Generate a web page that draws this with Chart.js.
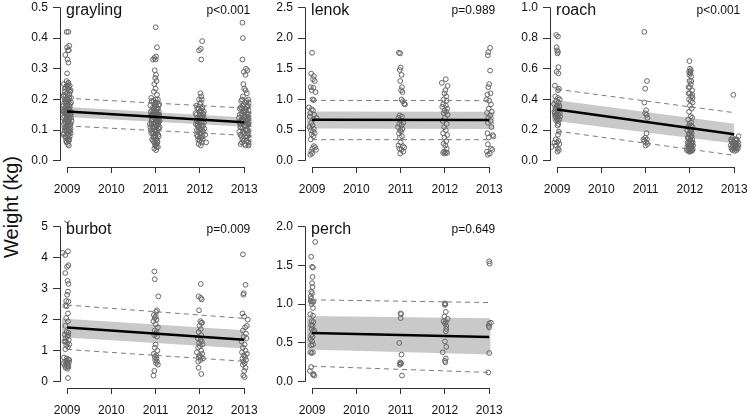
<!DOCTYPE html>
<html>
<head>
<meta charset="utf-8">
<script src="https://cdn.jsdelivr.net/npm/chart.js@4.4.1/dist/chart.umd.min.js"></script>
<style>
  body { margin: 0; width: 750px; height: 414px; position: relative; overflow: hidden; background: #fff;
         font-family: "Liberation Sans", Arial, sans-serif; }
  canvas { position: absolute; }
  #ylab { position: absolute; left: 11px; top: 207px; transform: translate(-50%, -50%) rotate(-90deg);
          font-size: 20px; white-space: nowrap; color: #111; }
</style>
</head>
<body>
<div id="ylab">Weight (kg)</div>
<canvas id="p0"></canvas>
<canvas id="p1"></canvas>
<canvas id="p2"></canvas>
<canvas id="p3"></canvas>
<canvas id="p4"></canvas>
<script>
// ---------- data ----------
const yearTicks = [2009, 2010, 2011, 2012, 2013];
const fitX = [2009, 2013];

// grayling
const graylingTicks = ['0.0', '0.1', '0.2', '0.3', '0.4', '0.5'];
const graylingPts = [
  [2008.99,0.42],[2009.03,0.42],[2009.05,0.375],[2009.0,0.37],[2009.02,0.36],[2009.04,0.36],[2008.96,0.345],[2009.01,0.33],[2009.03,0.32],[2009.0,0.285],[2008.99,0.26],[2009.03,0.255],
  [2008.93,0.25],[2009.06,0.245],[2008.97,0.24],[2009.02,0.235],[2009.08,0.23],[2008.95,0.225],[2009.0,0.22],[2009.05,0.215],[2008.92,0.21],[2009.09,0.205],[2008.98,0.2],[2009.03,0.195],[2008.94,0.19],[2009.07,0.185],[2009.0,0.18],[2008.96,0.175],[2009.04,0.17],[2008.91,0.165],[2009.09,0.16],[2008.99,0.155],[2009.02,0.15],[2008.94,0.145],[2009.06,0.14],[2008.97,0.135],[2009.1,0.13],[2009.01,0.125],[2008.93,0.12],[2009.05,0.115],[2008.98,0.11],[2009.08,0.105],[2008.95,0.1],[2009.03,0.095],[2009.0,0.09],[2008.92,0.085],[2009.06,0.08],[2008.97,0.075],[2009.02,0.07],[2009.04,0.065],[2008.99,0.06],[2009.02,0.055],[2009.04,0.05],
  [2009.0,0.2],[2008.96,0.16],[2009.05,0.18],[2008.99,0.14],[2009.07,0.12],[2008.94,0.17],[2009.03,0.13],[2008.98,0.19],[2009.06,0.1],[2009.01,0.17],[2008.95,0.13],[2009.08,0.15],[2009.02,0.11],[2008.97,0.21],[2009.04,0.23],
  [2008.93,0.215],[2009.05,0.205],[2008.97,0.195],[2009.09,0.19],[2009.01,0.185],[2008.92,0.18],[2009.06,0.175],[2008.98,0.165],[2009.03,0.16],[2008.95,0.155],[2009.07,0.15],[2009.0,0.145],[2008.91,0.14],[2009.04,0.135],[2008.96,0.125],[2009.08,0.12],[2009.02,0.115],[2008.94,0.11],[2009.06,0.095],[2008.99,0.1],[2008.93,0.09],[2009.03,0.085],[2009.08,0.09],[2008.96,0.08],[2009.01,0.075],[2009.05,0.07],[2008.98,0.065],[2009.04,0.24],[2008.99,0.245],[2009.02,0.25],[2008.95,0.235],[2009.07,0.225],[2009.0,0.13],[2008.97,0.105],[2009.05,0.16],[2009.09,0.14],[2008.92,0.16],[2009.02,0.2],[2008.95,0.2],[2009.06,0.11],
  [2011.0,0.435],[2011.03,0.37],[2011.01,0.34],[2010.97,0.335],[2010.94,0.33],[2011.0,0.33],[2010.98,0.295],[2011.01,0.28],[2010.99,0.27],[2011.02,0.26],[2010.97,0.25],[2011.0,0.235],[2010.96,0.225],[2011.03,0.215],
  [2010.9,0.205],[2011.05,0.2],[2010.95,0.195],[2011.0,0.19],[2011.08,0.185],[2010.88,0.18],[2010.98,0.175],[2011.04,0.17],[2010.92,0.165],[2011.07,0.16],[2010.96,0.155],[2011.01,0.15],[2010.89,0.145],[2011.05,0.14],[2010.94,0.135],[2011.09,0.13],[2010.99,0.125],[2010.87,0.12],[2011.03,0.115],[2010.93,0.11],[2011.07,0.105],[2010.97,0.1],[2011.02,0.095],[2010.9,0.09],[2011.06,0.085],[2010.95,0.08],[2011.0,0.075],[2010.92,0.07],[2011.04,0.065],[2010.97,0.06],[2011.02,0.055],[2010.99,0.05],[2011.05,0.045],[2011.01,0.035],
  [2011.0,0.18],[2010.93,0.15],[2011.06,0.12],[2010.98,0.14],[2011.03,0.1],[2010.91,0.13],[2011.08,0.15],[2010.96,0.11],[2011.01,0.16],[2010.94,0.09],[2011.05,0.17],[2010.99,0.08],[2011.0,0.12],[2010.89,0.1],[2011.04,0.13],
  [2010.91,0.195],[2011.03,0.19],[2010.97,0.185],[2011.07,0.18],[2010.94,0.175],[2011.01,0.17],[2010.89,0.16],[2011.04,0.155],[2010.96,0.15],[2011.08,0.145],[2010.99,0.14],[2010.92,0.135],[2011.05,0.125],[2010.95,0.12],[2011.02,0.115],[2010.88,0.11],[2011.06,0.105],[2010.98,0.1],[2010.93,0.095],[2011.03,0.09],[2011.07,0.08],[2010.96,0.075],[2011.01,0.07],[2010.94,0.065],[2011.04,0.06],[2010.99,0.055],[2011.02,0.045],[2010.97,0.04],[2011.0,0.2],[2010.95,0.16],[2011.06,0.13],[2010.91,0.12],[2011.02,0.13],[2010.98,0.16],[2011.09,0.11],[2010.9,0.15],[2011.0,0.095],[2011.05,0.15],
  [2011.98,0.36],[2012.02,0.365],[2012.05,0.39],[2012.03,0.33],[2012.01,0.22],[2012.03,0.21],[2011.98,0.2],[2012.02,0.19],
  [2011.92,0.18],[2012.06,0.175],[2011.97,0.17],[2012.02,0.165],[2012.09,0.16],[2011.9,0.155],[2012.0,0.15],[2012.05,0.145],[2011.94,0.14],[2012.1,0.135],[2011.99,0.13],[2012.04,0.125],[2011.91,0.12],[2012.07,0.115],[2011.96,0.11],[2012.01,0.105],[2011.93,0.1],[2012.08,0.095],[2011.98,0.09],[2012.12,0.085],[2011.95,0.08],[2012.03,0.075],[2012.06,0.07],[2011.99,0.065],[2011.97,0.055],[2012.02,0.05],[2012.14,0.06],
  [2012.0,0.14],[2011.95,0.12],[2012.05,0.1],[2012.02,0.16],[2011.93,0.13],[2012.08,0.15],
  [2011.94,0.17],[2012.04,0.17],[2011.99,0.16],[2012.07,0.155],[2011.92,0.15],[2012.03,0.14],[2011.97,0.135],[2012.09,0.125],[2012.0,0.12],[2011.94,0.115],[2012.05,0.11],[2011.99,0.1],[2012.1,0.105],[2011.96,0.095],[2012.03,0.09],[2011.93,0.085],[2012.06,0.08],[2012.0,0.075],[2011.96,0.07],[2012.04,0.06],[2012.0,0.185],[2012.04,0.2],
  [2012.96,0.45],[2012.97,0.4],[2012.96,0.33],[2013.04,0.3],[2013.07,0.295],[2012.99,0.29],[2013.03,0.28],[2012.98,0.25],[2013.0,0.235],[2013.03,0.23],[2013.06,0.22],[2012.97,0.21],
  [2013.09,0.2],[2012.93,0.195],[2013.02,0.19],[2013.13,0.185],[2012.97,0.18],[2013.06,0.175],[2012.9,0.17],[2013.1,0.165],[2013.0,0.16],[2012.94,0.155],[2013.15,0.15],[2013.04,0.145],[2012.88,0.14],[2013.08,0.135],[2012.98,0.13],[2013.12,0.125],[2012.92,0.12],[2013.03,0.115],[2013.16,0.11],[2012.96,0.105],[2013.07,0.1],[2012.89,0.095],[2013.01,0.09],[2013.11,0.085],[2012.94,0.08],[2013.05,0.075],[2013.14,0.07],[2012.99,0.065],[2013.09,0.06],[2012.92,0.055],[2013.03,0.05],[2013.12,0.055],
  [2013.0,0.14],[2012.95,0.17],[2013.06,0.12],[2013.1,0.15],[2012.91,0.11],[2013.02,0.1],[2013.13,0.13],[2012.97,0.15],[2013.07,0.08],[2013.16,0.09],
  [2012.95,0.2],[2013.05,0.195],[2013.11,0.19],[2012.99,0.185],[2013.08,0.18],[2012.92,0.175],[2013.03,0.17],[2013.14,0.165],[2012.97,0.16],[2013.07,0.155],[2012.9,0.15],[2013.01,0.145],[2013.12,0.14],[2012.95,0.135],[2013.05,0.13],[2012.89,0.125],[2013.09,0.12],[2013.0,0.115],[2012.93,0.11],[2013.14,0.105],[2013.04,0.1],[2012.97,0.095],[2013.08,0.09],[2012.91,0.085],[2013.02,0.08],[2013.12,0.075],[2012.96,0.07],[2013.06,0.065],[2013.15,0.06],[2013.0,0.055],[2012.95,0.06],[2013.1,0.05],[2013.07,0.14],[2012.93,0.13],[2013.17,0.12],[2013.02,0.165]
];
const graylingFit = [0.161, 0.126];
const graylingUpr = [0.204, 0.172];
const graylingLwr = [0.114, 0.083];
const graylingBandX = [2008.92, 2013.12];
const graylingCiHi = [0.176, 0.140];
const graylingCiLo = [0.144, 0.110];

// lenok
const lenokTicks = ['0.0', '0.5', '1.0', '1.5', '2.0', '2.5'];
const lenokPts = [
  [2009.0,1.76],[2008.98,1.42],[2009.04,1.38],[2009.02,1.33],[2009.06,1.3],[2008.97,1.2],[2009.03,1.19],[2008.99,1.15],[2009.08,1.12],[2009.01,1.0],[2009.04,0.99],[2008.93,0.87],[2008.99,0.84],[2009.02,0.82],[2008.96,0.78],[2009.05,0.75],[2008.95,0.72],[2009.1,0.7],[2009.03,0.68],[2008.98,0.62],[2009.01,0.58],[2008.94,0.55],[2009.04,0.52],[2008.97,0.5],[2009.02,0.48],[2009.06,0.45],[2008.99,0.43],[2009.03,0.4],[2008.97,0.35],[2009.04,0.24],[2009.07,0.22],[2009.01,0.2],[2009.09,0.18],[2008.98,0.15],[2009.0,0.12],[2008.96,0.1],
  [2010.96,1.76],[2010.99,1.75],[2011.0,1.52],[2010.98,1.48],[2011.02,1.4],[2010.99,1.3],[2011.03,1.2],[2011.01,1.15],[2011.04,1.12],[2011.02,1.0],[2011.05,0.97],[2011.08,0.93],[2011.1,0.92],[2010.98,0.74],[2011.03,0.72],[2010.95,0.7],[2011.0,0.65],[2011.06,0.62],[2010.97,0.6],[2011.02,0.58],[2010.94,0.55],[2011.04,0.52],[2010.99,0.5],[2011.01,0.48],[2010.96,0.45],[2011.03,0.4],[2010.98,0.38],[2011.0,0.3],[2010.95,0.25],[2011.05,0.24],[2011.08,0.22],[2010.97,0.2],[2011.02,0.18],[2011.06,0.15],[2010.99,0.12],
  [2012.02,1.33],[2011.93,1.27],[2012.06,1.22],[2012.01,1.15],[2011.99,1.1],[2012.03,1.05],[2011.97,1.0],[2012.04,0.98],[2011.96,0.92],[2012.02,0.9],[2011.94,0.88],[2012.05,0.85],[2011.99,0.82],[2012.03,0.8],[2011.97,0.78],[2012.06,0.75],[2012.0,0.7],[2011.95,0.65],[2012.04,0.6],[2011.98,0.55],[2012.02,0.5],[2011.96,0.45],[2012.05,0.42],[2011.99,0.38],[2012.03,0.32],[2011.97,0.28],[2012.01,0.25],[2012.04,0.2],[2011.98,0.15],[2012.02,0.14],[2011.96,0.13],[2012.05,0.13],[2012.0,0.12],
  [2013.02,1.84],[2012.98,1.77],[2012.97,1.72],[2013.02,1.47],[2013.0,1.25],[2012.98,1.2],[2013.03,1.1],[2012.96,1.08],[2012.94,1.0],[2013.0,0.98],[2013.04,0.92],[2012.99,0.85],[2013.06,0.8],[2012.95,0.78],[2013.02,0.74],[2012.98,0.7],[2013.03,0.65],[2012.97,0.62],[2013.05,0.55],[2012.96,0.45],[2013.08,0.42],[2013.1,0.4],[2012.99,0.38],[2012.97,0.27],[2013.04,0.2],[2013.07,0.18],[2012.95,0.15],[2013.01,0.12],[2012.97,0.1]
];
const lenokFit = [0.668, 0.665];
const lenokUpr = [0.985, 0.98];
const lenokLwr = [0.345, 0.345];
const lenokBandX = [2008.88, 2013.12];
const lenokCiHi = [0.805, 0.80];
const lenokCiLo = [0.525, 0.52];

// roach
const roachTicks = ['0.0', '0.2', '0.4', '0.6', '0.8', '1.0'];
const roachPts = [
  [2008.98,0.82],[2009.02,0.81],[2008.99,0.74],[2009.0,0.72],[2009.02,0.71],[2009.01,0.7],[2009.03,0.61],[2008.99,0.58],[2009.03,0.57],[2008.95,0.49],[2009.04,0.47],[2009.02,0.46],[2008.96,0.42],[2009.02,0.41],[2009.06,0.4],[2008.98,0.39],[2009.03,0.38],[2008.93,0.37],[2009.0,0.36],[2009.05,0.35],[2008.97,0.34],[2009.02,0.33],[2008.94,0.32],[2009.06,0.31],[2008.99,0.3],[2009.03,0.3],[2008.96,0.29],[2009.01,0.28],[2009.05,0.27],[2008.98,0.26],[2009.03,0.24],[2009.01,0.23],[2009.04,0.19],[2009.02,0.17],[2008.97,0.14],[2009.03,0.13],[2008.94,0.12],[2009.0,0.12],[2009.05,0.11],[2008.98,0.1],[2008.87,0.09],[2009.02,0.08],[2009.04,0.07],[2009.01,0.06],
  [2009.04,0.33],[2008.99,0.35],[2009.07,0.29],[2008.95,0.31],[2009.02,0.26],[2009.05,0.36],[2008.97,0.3],[2009.0,0.27],
  [2010.97,0.84],[2011.03,0.52],[2010.99,0.47],[2010.97,0.38],[2011.01,0.33],[2010.99,0.31],[2011.02,0.3],[2011.04,0.28],[2011.02,0.18],[2010.99,0.15],[2011.03,0.14],[2010.97,0.13],[2011.01,0.12],[2011.04,0.11],[2011.0,0.1],[2010.95,0.14],
  [2011.99,0.65],[2012.0,0.6],[2012.02,0.59],[2011.98,0.58],[2012.01,0.57],[2012.03,0.55],[2011.99,0.52],[2012.02,0.5],[2011.97,0.48],[2012.05,0.46],[2012.0,0.44],[2012.03,0.42],[2012.06,0.41],[2011.98,0.4],[2012.02,0.39],[2012.0,0.36],[2012.04,0.34],[2011.98,0.32],[2012.02,0.29],[2012.05,0.28],[2011.96,0.27],[2012.03,0.25],[2011.99,0.24],[2012.06,0.22],[2011.94,0.2],[2012.01,0.19],[2012.04,0.18],[2011.97,0.17],[2012.02,0.16],[2011.95,0.15],[2012.05,0.14],[2011.99,0.13],[2012.03,0.12],[2011.96,0.11],[2012.07,0.1],[2012.0,0.1],[2011.94,0.09],[2012.04,0.09],[2011.98,0.08],[2012.02,0.08],[2011.96,0.07],[2012.05,0.07],[2012.0,0.06],[2012.02,0.065],[2011.97,0.1],[2012.01,0.14],
  [2011.93,0.07],[2012.06,0.08],[2011.99,0.09],[2012.03,0.1],[2011.95,0.12],[2012.06,0.12],[2012.0,0.13],[2011.97,0.15],[2012.04,0.16],[2011.99,0.18],[2012.03,0.2],[2011.96,0.22],[2012.02,0.23],[2012.0,0.08],[2012.05,0.11],[2011.98,0.06],[2012.04,0.065],[2012.01,0.58],[2011.99,0.56],[2012.03,0.52],[2012.0,0.48],[2012.05,0.43],[2011.97,0.44],[2012.06,0.38],
  [2012.98,0.43],[2013.1,0.16],[2012.96,0.15],[2013.02,0.14],[2013.06,0.14],[2012.94,0.13],[2013.0,0.12],[2013.08,0.12],[2012.97,0.11],[2013.04,0.11],[2012.92,0.1],[2013.01,0.1],[2013.07,0.09],[2012.95,0.09],[2013.03,0.08],[2012.99,0.08],[2013.05,0.07],[2013.01,0.065],
  [2012.93,0.14],[2013.05,0.13],[2013.09,0.1],[2012.98,0.12],[2013.03,0.1],[2012.96,0.07],[2013.08,0.08],[2013.12,0.11],[2012.94,0.08],[2013.0,0.09]
];
const roachFit = [0.335, 0.173];
const roachUpr = [0.466, 0.314];
const roachLwr = [0.194, 0.036];
const roachBandX = [2008.88, 2013.0];
const roachCiHi = [0.40, 0.242];
const roachCiLo = [0.263, 0.113];

// burbot
const burbotTicks = ['0', '1', '2', '3', '4', '5'];
const burbotPts = [
  [2009.0,5.2],[2008.9,4.15],[2008.96,4.08],[2009.02,4.2],[2009.03,3.75],[2009.0,3.7],[2008.96,3.5],[2009.01,3.25],[2009.03,3.15],[2009.02,2.9],[2009.0,2.8],[2008.98,2.6],[2009.03,2.58],[2008.96,2.45],[2008.99,2.43],[2009.02,2.2],[2008.98,2.05],[2009.02,1.95],[2008.96,1.8],[2008.99,1.6],[2009.03,1.58],[2008.95,1.52],[2009.01,1.45],[2008.97,1.4],[2009.04,1.35],[2008.94,1.3],[2009.0,1.25],[2008.98,1.18],[2009.02,1.12],[2008.96,1.05],[2008.93,0.78],[2008.99,0.75],[2009.03,0.72],[2009.05,0.7],[2008.96,0.65],[2009.01,0.62],[2008.98,0.58],[2009.02,0.55],[2008.95,0.52],[2009.0,0.5],[2009.03,0.48],[2008.97,0.45],[2009.01,0.42],[2009.02,0.12],
  [2008.92,0.6],[2009.04,0.62],[2008.99,0.68],[2009.02,1.5],[2008.97,1.3],[2009.05,1.2],
  [2010.97,3.55],[2010.98,3.3],[2011.06,2.75],[2011.03,2.3],[2011.01,2.25],[2010.96,2.15],[2011.0,2.1],[2010.98,2.05],[2011.02,2.0],[2010.95,1.95],[2011.0,1.85],[2011.05,1.75],[2010.98,1.65],[2011.02,1.6],[2011.0,1.55],[2010.97,1.5],[2011.03,1.45],[2011.0,1.2],[2010.98,1.1],[2011.04,1.0],[2010.96,0.9],[2011.01,0.85],[2010.98,0.8],[2011.02,0.75],[2010.99,0.7],[2011.03,0.65],[2011.01,0.6],[2011.05,0.55],[2010.97,0.35],[2010.95,0.2],
  [2012.02,3.15],[2011.97,2.75],[2012.02,2.7],[2012.04,2.65],[2011.98,2.3],[2012.01,1.95],[2012.03,1.9],[2012.05,1.9],[2011.99,1.8],[2012.02,1.7],[2011.97,1.6],[2012.03,1.5],[2011.95,1.4],[2012.01,1.35],[2012.04,1.3],[2011.98,1.25],[2012.06,1.2],[2012.0,1.15],[2011.96,1.1],[2012.03,1.0],[2011.93,0.95],[2012.05,0.9],[2011.99,0.85],[2012.02,0.8],[2011.97,0.78],[2012.07,0.75],[2012.01,0.7],[2011.96,0.65],[2011.97,0.45],[2012.03,0.25],
  [2012.97,4.1],[2013.03,3.12],[2012.99,2.85],[2012.98,2.8],[2012.96,2.2],[2013.08,2.0],[2013.0,2.1],[2013.06,1.8],[2013.02,1.75],[2012.97,1.65],[2013.04,1.55],[2012.99,1.45],[2013.05,1.4],[2012.94,1.3],[2013.01,1.2],[2012.97,1.1],[2013.03,1.0],[2012.95,0.95],[2013.06,0.9],[2012.99,0.85],[2013.02,0.8],[2012.96,0.75],[2013.04,0.7],[2012.98,0.65],[2013.01,0.6],[2012.97,0.55],[2013.03,0.45],[2013.0,0.35],[2012.98,0.2],[2013.01,0.15]
];
const burbotFit = [1.75, 1.35];
const burbotUpr = [2.47, 2.04];
const burbotLwr = [1.04, 0.66];
const burbotBandX = [2008.88, 2013.0];
const burbotCiHi = [2.04, 1.66];
const burbotCiLo = [1.43, 1.07];

// perch
const perchTicks = ['0.0', '0.5', '1.0', '1.5', '2.0'];
const perchPts = [
  [2009.07,1.8],[2008.98,1.61],[2009.0,1.48],[2009.02,1.47],[2009.01,1.35],[2009.0,1.27],[2009.01,1.22],[2008.98,1.16],[2009.0,1.14],[2008.97,1.1],[2008.98,1.07],[2008.97,1.04],[2009.0,1.03],[2009.03,1.03],[2008.99,1.0],[2009.02,0.95],[2008.96,0.87],[2009.02,0.85],[2008.99,0.78],[2009.03,0.77],[2008.98,0.73],[2009.01,0.72],[2008.99,0.68],[2009.02,0.65],[2009.05,0.66],[2008.98,0.6],[2009.01,0.58],[2008.97,0.55],[2009.0,0.52],[2008.98,0.47],[2009.02,0.48],[2008.96,0.38],[2009.02,0.38],[2008.99,0.37],[2008.98,0.19],[2008.95,0.14],[2009.03,0.1],[2009.05,0.08],[2009.02,0.09],
  [2011.0,0.88],[2011.01,0.87],[2011.0,0.82],[2010.97,0.5],[2011.02,0.35],[2010.99,0.25],[2011.01,0.24],[2011.0,0.23],[2010.98,0.22],[2011.03,0.08],
  [2012.0,1.01],[2012.01,1.0],[2012.0,0.99],[2012.02,0.9],[2011.99,0.84],[2012.06,0.81],[2011.97,0.78],[2012.02,0.77],[2012.0,0.75],[2012.03,0.72],[2012.03,0.68],[2012.02,0.65],[2012.0,0.52],[2012.03,0.45],[2011.95,0.38],[2012.02,0.3],[2012.0,0.27],[2012.01,0.25],
  [2013.0,1.55],[2013.01,1.52],[2013.0,0.75],[2013.04,0.76],[2012.99,0.72],[2013.0,0.7],[2013.0,0.37],[2012.98,0.12]
];
const perchFit = [0.627, 0.577];
const perchUpr = [1.055, 1.02];
const perchLwr = [0.20, 0.12];
const perchBandX = [2008.88, 2013.03];
const perchCiHi = [0.847, 0.818];
const perchCiLo = [0.415, 0.352];

// ---------- panel layout ----------
const Y_W = 50, X_H = 40, PAD_T = 10, PAD_R = 12, PLOT_W = 195;
const AXIS = '#333', FONT = 'Liberation Sans';

const panels = [
  { id: 'p0', name: 'grayling', p: 'p<0.001', left: 60,  top: -1,  h: 168, min: -0.02, max: 0.52,
    ticks: graylingTicks, pts: graylingPts, fit: graylingFit, upr: graylingUpr, lwr: graylingLwr, bandX: graylingBandX, hi: graylingCiHi, lo: graylingCiLo },
  { id: 'p1', name: 'lenok', p: 'p=0.989', left: 305, top: -1, h: 168, min: -0.1, max: 2.6,
    ticks: lenokTicks, pts: lenokPts, fit: lenokFit, upr: lenokUpr, lwr: lenokLwr, bandX: lenokBandX, hi: lenokCiHi, lo: lenokCiLo },
  { id: 'p2', name: 'roach', p: 'p<0.001', left: 550, top: -1, h: 168, min: -0.04, max: 1.04,
    ticks: roachTicks, pts: roachPts, fit: roachFit, upr: roachUpr, lwr: roachLwr, bandX: roachBandX, hi: roachCiHi, lo: roachCiLo },
  { id: 'p3', name: 'burbot', p: 'p=0.009', left: 60, top: 218, h: 170, min: -0.2, max: 5.2,
    ticks: burbotTicks, pts: burbotPts, fit: burbotFit, upr: burbotUpr, lwr: burbotLwr, bandX: burbotBandX, hi: burbotCiHi, lo: burbotCiLo },
  { id: 'p4', name: 'perch', p: 'p=0.649', left: 305, top: 218, h: 170, min: -0.08, max: 2.08,
    ticks: perchTicks, pts: perchPts, fit: perchFit, upr: perchUpr, lwr: perchLwr, bandX: perchBandX, hi: perchCiHi, lo: perchCiLo }
];

// R-style detached axes + in-panel labels
const rStyle = {
  id: 'rStyle',
  afterDraw(chart, args, opts) {
    const { ctx, chartArea: a, scales: { x, y } } = chart;
    const y0 = y.getPixelForValue(y.ticks[0].value);
    const y1 = y.getPixelForValue(y.ticks[y.ticks.length - 1].value);
    const x0 = x.getPixelForValue(x.ticks[0].value);
    const x1 = x.getPixelForValue(x.ticks[x.ticks.length - 1].value);
    ctx.save();
    ctx.strokeStyle = AXIS;
    ctx.lineWidth = 1;
    ctx.beginPath();
    ctx.moveTo(a.left + 0.5, y0);
    ctx.lineTo(a.left + 0.5, y1);
    ctx.moveTo(x0, a.bottom + 0.5);
    ctx.lineTo(x1, a.bottom + 0.5);
    ctx.stroke();
    ctx.fillStyle = '#111';
    ctx.font = '16px "' + FONT + '"';
    ctx.textAlign = 'left';
    ctx.fillText(opts.name, x0 - 1, a.top + 14);
    ctx.font = '12px "' + FONT + '"';
    ctx.textAlign = 'right';
    ctx.fillText(opts.p, a.right - 1, a.top + 13);
    ctx.restore();
  }
};

function xy(xs, ys) {
  return xs.map((x, i) => ({ x: x, y: ys[i] }));
}

panels.forEach(function (pn) {
  const cv = document.getElementById(pn.id);
  cv.width = Y_W + PLOT_W + PAD_R;
  cv.height = PAD_T + pn.h + X_H;
  cv.style.left = (pn.left - Y_W) + 'px';
  cv.style.top = (pn.top - PAD_T) + 'px';

  new Chart(cv, {
    type: 'scatter',
    data: {
      datasets: [
        { type: 'line', data: xy(pn.bandX, pn.lo), borderWidth: 0, pointRadius: 0, fill: false, order: 5 },
        { type: 'line', data: xy(pn.bandX, pn.hi), borderWidth: 0, pointRadius: 0, fill: '-1',
          backgroundColor: '#c9c9c9', order: 4 },
        { data: pn.pts.map(p => ({ x: p[0], y: p[1] })), pointRadius: 2.4, borderWidth: 1,
          borderColor: '#666', backgroundColor: 'rgba(255,255,255,0)', order: 3 },
        { type: 'line', data: xy(fitX, pn.upr), borderColor: '#7a7a7a', borderWidth: 1,
          borderDash: [5, 4], pointRadius: 0, fill: false, order: 2 },
        { type: 'line', data: xy(fitX, pn.lwr), borderColor: '#7a7a7a', borderWidth: 1,
          borderDash: [5, 4], pointRadius: 0, fill: false, order: 2 },
        { type: 'line', data: xy(fitX, pn.fit), borderColor: '#000', borderWidth: 2.5,
          pointRadius: 0, fill: false, order: 1 }
      ]
    },
    options: {
      responsive: false,
      animation: false,
      events: [],
      layout: { padding: { top: PAD_T, right: PAD_R, left: 0, bottom: 0 } },
      plugins: {
        legend: { display: false },
        tooltip: { enabled: false },
        rStyle: { name: pn.name, p: pn.p }
      },
      scales: {
        x: {
          type: 'linear', min: 2008.84, max: 2013.16,
          afterBuildTicks: s => { s.ticks = yearTicks.map(v => ({ value: v })); },
          afterFit: s => { s.height = X_H; },
          grid: { drawOnChartArea: false, tickLength: 6, color: AXIS },
          border: { display: false },
          ticks: { color: '#111', font: { family: FONT, size: 12 }, padding: 9,
                   maxRotation: 0, autoSkip: false, callback: v => String(v) }
        },
        y: {
          type: 'linear', min: pn.min, max: pn.max,
          afterBuildTicks: s => { s.ticks = pn.ticks.map(t => ({ value: parseFloat(t) })); },
          afterFit: s => { s.width = Y_W; },
          grid: { drawOnChartArea: false, tickLength: 7, color: AXIS },
          border: { display: false },
          ticks: { color: '#111', font: { family: FONT, size: 12 }, padding: 5,
                   callback: (v, i) => pn.ticks[i] }
        }
      }
    },
    plugins: [rStyle]
  });
});
</script>
</body>
</html>
